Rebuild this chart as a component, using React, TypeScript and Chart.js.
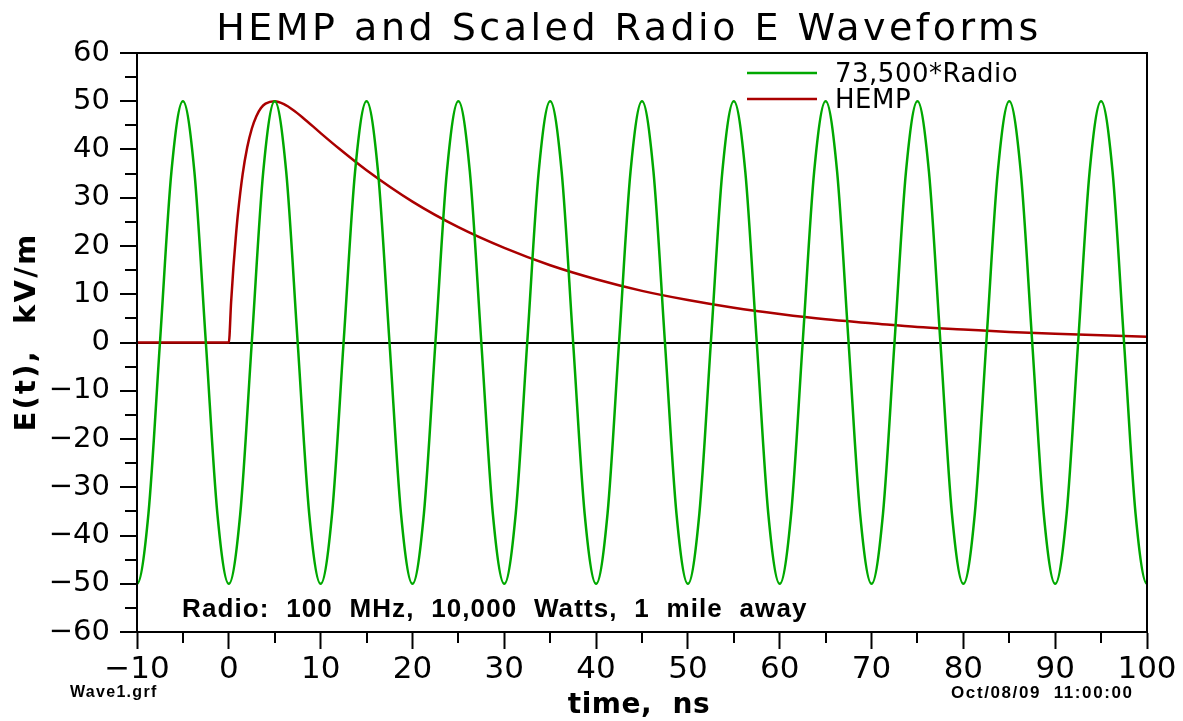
import { useEffect, useRef } from 'react';
import { Chart, registerables } from 'chart.js';

Chart.register(...registerables);

// ---- Data ----
const radioT = [
  -11.25,
  -10, -8.75, -7.5, -6.25, -5, -3.75, -2.5, -1.25,
  0, 1.25, 2.5, 3.75, 5, 6.25, 7.5, 8.75,
  10, 11.25, 12.5, 13.75, 15, 16.25, 17.5, 18.75,
  20, 21.25, 22.5, 23.75, 25, 26.25, 27.5, 28.75,
  30, 31.25, 32.5, 33.75, 35, 36.25, 37.5, 38.75,
  40, 41.25, 42.5, 43.75, 45, 46.25, 47.5, 48.75,
  50, 51.25, 52.5, 53.75, 55, 56.25, 57.5, 58.75,
  60, 61.25, 62.5, 63.75, 65, 66.25, 67.5, 68.75,
  70, 71.25, 72.5, 73.75, 75, 76.25, 77.5, 78.75,
  80, 81.25, 82.5, 83.75, 85, 86.25, 87.5, 88.75,
  90, 91.25, 92.5, 93.75, 95, 96.25, 97.5, 98.75,
  100, 101.25,
];
const radioE = [
  -35.4,
  -50, -35.4, 0, 35.4, 50, 35.4, 0, -35.4,
  -50, -35.4, 0, 35.4, 50, 35.4, 0, -35.4,
  -50, -35.4, 0, 35.4, 50, 35.4, 0, -35.4,
  -50, -35.4, 0, 35.4, 50, 35.4, 0, -35.4,
  -50, -35.4, 0, 35.4, 50, 35.4, 0, -35.4,
  -50, -35.4, 0, 35.4, 50, 35.4, 0, -35.4,
  -50, -35.4, 0, 35.4, 50, 35.4, 0, -35.4,
  -50, -35.4, 0, 35.4, 50, 35.4, 0, -35.4,
  -50, -35.4, 0, 35.4, 50, 35.4, 0, -35.4,
  -50, -35.4, 0, 35.4, 50, 35.4, 0, -35.4,
  -50, -35.4, 0, 35.4, 50, 35.4, 0, -35.4,
  -50, -35.4,
];
const hempT = [
  -10, 0, 0.25, 0.5, 0.75, 1, 1.5, 2, 2.5, 3, 3.5, 4, 5, 6, 7, 8, 10, 12, 15,
  20, 25, 30, 35, 40, 45, 50, 55, 60, 65, 70, 75, 80, 85, 90, 95, 100,
];
const hempE = [
  0, 0, 8.4, 15.6, 21.6, 26.8, 34.8, 40.4, 44.3, 46.9, 48.6, 49.5, 50.0, 49.4, 48.2, 46.7, 43.4, 40.2, 35.7,
  29.2, 23.9, 19.6, 16.0, 13.1, 10.7, 8.8, 7.2, 5.9, 4.8, 4.0, 3.2, 2.7, 2.2, 1.8, 1.5, 1.2,
];
const xMinorTicks = [-5, 5, 15, 25, 35, 45, 55, 65, 75, 85, 95];
const yMinorTicks = [-55, -45, -35, -25, -15, -5, 5, 15, 25, 35, 45, 55];

const chartTitle = 'HEMP and Scaled Radio E Waveforms';
const xTitle = 'time,  ns';
const yTitle = 'E(t),  kV/m';
const legendLabels = ['73,500*Radio', 'HEMP'];
const noteText = 'Radio:  100  MHz,  10,000  Watts,  1  mile  away';
const fileLabel = 'Wave1.grf';
const dateLabel = 'Oct/08/09  11:00:00';

const GREEN = '#00a800';
const RED = '#aa0000';
const FONT = '"DejaVu Sans", sans-serif';
const BFONT = '"Liberation Sans", Arial, sans-serif';

const fmt = (v: number | string) => {
  const n = Number(v);
  return n < 0 ? '\u2212' + Math.abs(n) : String(n);
};

function drawText(ctx: any, s: string, x: number, y: number, font: string, align: string, spacing: number) {
  ctx.save();
  ctx.font = font;
  ctx.fillStyle = '#000';
  ctx.textAlign = align;
  ctx.textBaseline = 'alphabetic';
  try { ctx.letterSpacing = spacing + 'px'; } catch (e) { /* ignore */ }
  ctx.fillText(s, x, y);
  ctx.restore();
}

export default function App() {
  const ref = useRef<HTMLCanvasElement>(null);

  useEffect(() => {
    document.body.style.margin = '0';
    const canvas = ref.current!;

    const deco = {
      id: 'deco',
      afterDraw(chart: any) {
        const ctx = chart.ctx;
        const a = chart.chartArea;
        const xs = chart.scales.x;
        const ys = chart.scales.y;
        ctx.save();
        ctx.strokeStyle = '#000';
        ctx.lineWidth = 2;
        ctx.strokeRect(a.left, a.top, a.right - a.left, a.bottom - a.top);
        // minor ticks
        ctx.beginPath();
        for (const v of yMinorTicks) {
          const py = Math.round(ys.getPixelForValue(v));
          ctx.moveTo(a.left - 12, py);
          ctx.lineTo(a.left, py);
        }
        for (const v of xMinorTicks) {
          const px = Math.round(xs.getPixelForValue(v));
          ctx.moveTo(px, a.bottom);
          ctx.lineTo(px, a.bottom + 11);
        }
        ctx.stroke();
        ctx.restore();

        // legend
        const items = [
          { c: GREEN, y: 73 },
          { c: RED, y: 99 },
        ];
        items.forEach((it, i) => {
          ctx.save();
          ctx.strokeStyle = it.c;
          ctx.lineWidth = 2.5;
          ctx.beginPath();
          ctx.moveTo(747, it.y);
          ctx.lineTo(817, it.y);
          ctx.stroke();
          ctx.restore();
          drawText(ctx, legendLabels[i], 835, it.y + 9, '26px ' + FONT, 'left', 0.5);
        });

        // title
        drawText(ctx, chartTitle, 629, 40, '38px ' + FONT, 'center', 3.5);
        // x title
        drawText(ctx, xTitle, 639, 713, 'bold 28px ' + FONT, 'center', 0.5);
        // y title
        ctx.save();
        ctx.translate(35, 332);
        ctx.rotate(-Math.PI / 2);
        drawText(ctx, yTitle, 0, 0, 'bold 29px ' + FONT, 'center', 2.3);
        ctx.restore();
        // note
        drawText(ctx, noteText, 182, 617, 'bold 26px ' + BFONT, 'left', 1.1);
        // footers
        drawText(ctx, fileLabel, 70, 697, 'bold 16px ' + BFONT, 'left', 1.3);
        drawText(ctx, dateLabel, 951, 698, 'bold 17px ' + BFONT, 'left', 1.6);
      },
    };

    const chart = new Chart(canvas, {
      type: 'line',
      data: {
        datasets: [
          {
            label: legendLabels[0],
            data: radioT.map((t, i) => ({ x: t, y: radioE[i] })),
            borderColor: GREEN,
            borderWidth: 2.5,
            pointRadius: 0,
            cubicInterpolationMode: 'monotone',
            fill: false,
          },
          {
            label: legendLabels[1],
            data: hempT.map((t, i) => ({ x: t, y: hempE[i] })),
            borderColor: RED,
            borderWidth: 2.5,
            pointRadius: 0,
            cubicInterpolationMode: 'monotone',
            fill: false,
          },
        ],
      },
      options: {
        responsive: false,
        animation: false,
        devicePixelRatio: 1,
        layout: { padding: { left: 0, top: 53, right: 36, bottom: 0 } },
        plugins: {
          legend: { display: false },
          title: { display: false },
          tooltip: { enabled: false },
        },
        scales: {
          x: {
            type: 'linear',
            min: -10,
            max: 100,
            ticks: {
              stepSize: 10,
              autoSkip: false,
              maxRotation: 0,
              color: '#000',
              padding: 2,
              font: { family: FONT, size: 31 },
              callback: fmt,
            },
            grid: {
              drawOnChartArea: false,
              drawTicks: true,
              tickLength: 17,
              tickColor: '#000',
              tickWidth: 2,
            },
            border: { display: true, color: '#000', width: 2 },
            afterFit(s: any) { s.height = 89; },
          },
          y: {
            type: 'linear',
            min: -60,
            max: 60,
            ticks: {
              stepSize: 10,
              autoSkip: false,
              color: '#000',
              padding: 10,
              font: { family: FONT, size: 29 },
              callback: fmt,
            },
            grid: {
              drawOnChartArea: true,
              color: (c: any) => (c.tick && c.tick.value === 0 ? '#000' : 'rgba(0,0,0,0)'),
              lineWidth: 2,
              drawTicks: true,
              tickLength: 17,
              tickColor: '#000',
              tickWidth: 2,
            },
            border: { display: true, color: '#000', width: 2 },
            afterFit(s: any) { s.width = 137; },
          },
        },
      } as any,
      plugins: [deco],
    } as any);

    return () => chart.destroy();
  }, []);

  return (
    <div style={{ position: 'fixed', left: 0, top: 0, width: 1183, height: 721, background: '#fff' }}>
      <canvas ref={ref} width={1183} height={721} style={{ width: 1183, height: 721, display: 'block' }} />
    </div>
  );
}
